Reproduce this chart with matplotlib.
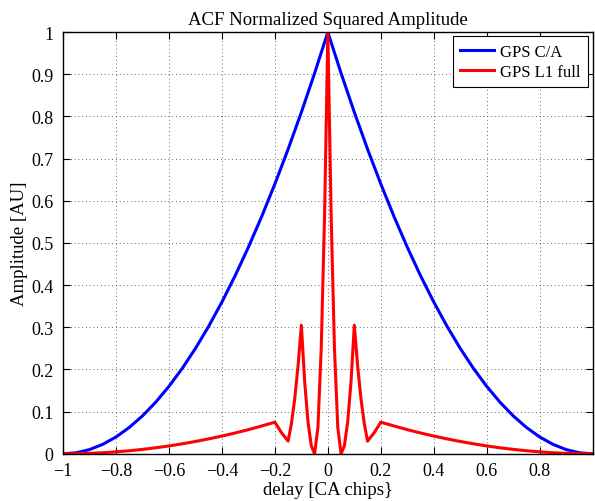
import numpy as np
import matplotlib
matplotlib.use("Agg")
import matplotlib.pyplot as plt

plt.rcParams['font.family'] = ['Liberation Serif', 'DejaVu Serif']

# GPS C/A
ca_x = [-1, -0.95, -0.9, -0.85, -0.8, -0.75, -0.7, -0.65, -0.6, -0.55, -0.5,
        -0.45, -0.4, -0.35, -0.3, -0.25, -0.2, -0.15, -0.1, -0.05, 0,
        0.05, 0.1, 0.15, 0.2, 0.25, 0.3, 0.35, 0.4, 0.45, 0.5,
        0.55, 0.6, 0.65, 0.7, 0.75, 0.8, 0.85, 0.9, 0.95, 1]
ca_y = [0, 0.0025, 0.01, 0.0225, 0.04, 0.0625, 0.09, 0.1225, 0.16, 0.2025, 0.25,
        0.3025, 0.36, 0.4225, 0.49, 0.5625, 0.64, 0.7225, 0.81, 0.9025, 1,
        0.9025, 0.81, 0.7225, 0.64, 0.5625, 0.49, 0.4225, 0.36, 0.3025, 0.25,
        0.2025, 0.16, 0.1225, 0.09, 0.0625, 0.04, 0.0225, 0.01, 0.0025, 0]

# GPS L1 full
l1_x = [-1, -0.95, -0.9, -0.85, -0.8, -0.75, -0.7, -0.65, -0.6, -0.55, -0.5,
        -0.45, -0.4, -0.35, -0.3, -0.25, -0.2, -0.175, -0.15, -0.1375, -0.125,
        -0.1125, -0.1, -0.0875, -0.075, -0.0625, -0.05, -0.0375, -0.025, -0.0125, 0,
        0.0125, 0.025, 0.0375, 0.05, 0.0625, 0.075, 0.0875, 0.1, 0.1125, 0.125,
        0.1375, 0.15, 0.175, 0.2, 0.25, 0.3, 0.35, 0.4, 0.45, 0.5,
        0.55, 0.6, 0.65, 0.7, 0.75, 0.8, 0.85, 0.9, 0.95, 1]
l1_y = [0, 0.0003, 0.0012, 0.0026, 0.0047, 0.0073, 0.0105, 0.0143, 0.0187, 0.0237, 0.0293,
        0.0354, 0.0421, 0.0494, 0.0573, 0.066, 0.075, 0.050, 0.030, 0.072, 0.131,
        0.209, 0.305, 0.171, 0.076, 0.019, 0, 0.0625, 0.25, 0.5625, 1,
        0.5625, 0.25, 0.0625, 0, 0.019, 0.076, 0.171, 0.305, 0.209, 0.131,
        0.072, 0.030, 0.050, 0.075, 0.066, 0.0573, 0.0494, 0.0421, 0.0354, 0.0293,
        0.0237, 0.0187, 0.0143, 0.0105, 0.0073, 0.0047, 0.0026, 0.0012, 0.0003, 0]

fig = plt.figure(figsize=(5.95, 5.02), dpi=100)
ax = fig.add_axes([0.106, 0.094, 0.89, 0.84])

ax.plot(ca_x, ca_y, color=(0, 0, 1), lw=2.2, label='GPS C/A')
ax.plot(l1_x, l1_y, color=(1, 0, 0), lw=2.2, label='GPS L1 full')

ax.set_xlim(-1, 1)
ax.set_ylim(0, 1)
ax.set_xticks(np.arange(-1, 1.01, 0.2))
ax.set_yticks(np.arange(0, 1.01, 0.1))
ax.set_xticklabels(['\u22121', '\u22120.8', '\u22120.6', '\u22120.4', '\u22120.2', '0',
                    '0.2', '0.4', '0.6', '0.8', ''])
ax.set_yticklabels(['0', '0.1', '0.2', '0.3', '0.4', '0.5', '0.6', '0.7', '0.8', '0.9', '1'])
ax.grid(True, color='0.2', lw=0.6, dashes=(1, 3.5))
ax.tick_params(direction='in', top=True, right=True, labelsize=13, length=5)
ax.tick_params(axis='y', pad=7)
ax.tick_params(axis='x', pad=6)
for s in ax.spines.values():
    s.set_linewidth(1)

ax.set_title('ACF Normalized Squared Amplitude', fontsize=13.5)
ax.set_xlabel('delay [CA chips}', fontsize=13.5, labelpad=1)
ax.set_ylabel('Amplitude [AU]', fontsize=13.5)
ax.yaxis.set_label_coords(-0.066, 0.5)

leg = ax.legend(loc='upper right', fontsize=12, fancybox=False, framealpha=1,
                edgecolor='black', handlelength=2.0, handletextpad=0.4,
                labelspacing=0.25, borderpad=0.45, borderaxespad=0.25)
leg.get_frame().set_linewidth(0.8)

fig.savefig('out.png', dpi=100)
